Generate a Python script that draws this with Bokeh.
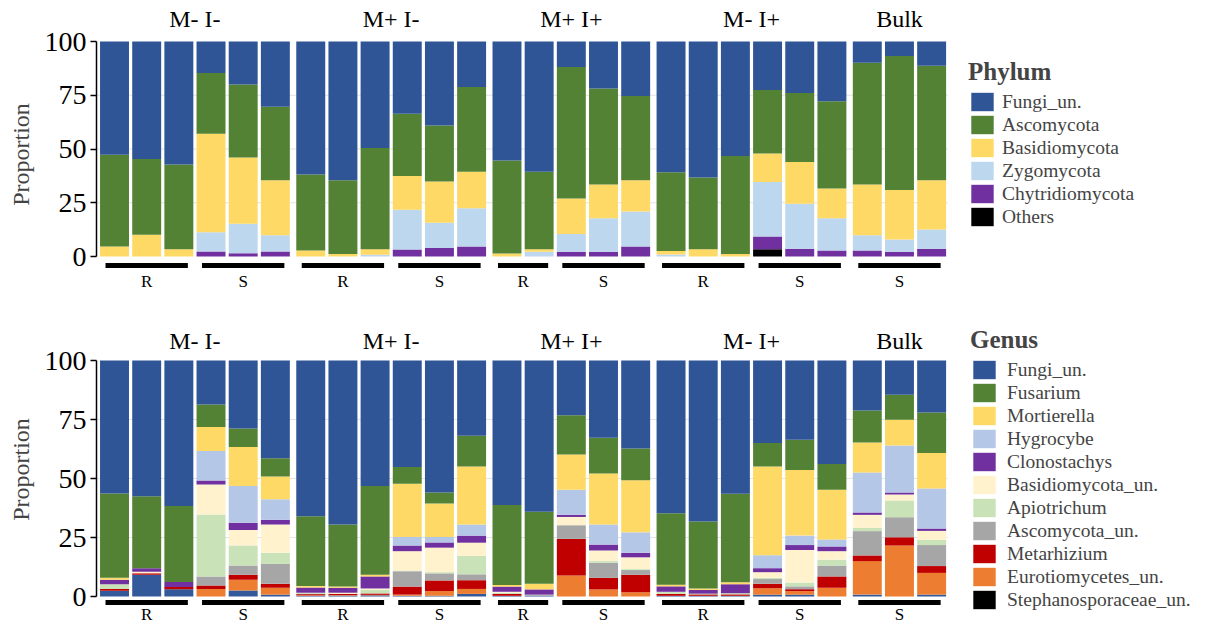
from bokeh.plotting import figure
from bokeh.models import Legend, LegendItem, ColumnDataSource, Range1d, FixedTicker
from bokeh.layouts import column
from bokeh.embed import file_html
from bokeh.resources import INLINE
from bokeh.core.properties import value

# ---------------- data ----------------
groups = ["M- I-", "M+ I-", "M+ I+", "M- I+", "Bulk"]
group_sites = [
    ["R", "R", "R", "S", "S", "S"],
    ["R", "R", "R", "S", "S", "S"],
    ["R", "R", "S", "S", "S"],
    ["R", "R", "R", "S", "S", "S"],
    ["S", "S", "S"],
]

phylum_names = ["Fungi_un.", "Ascomycota", "Basidiomycota", "Zygomycota", "Chytridiomycota", "Others"]
phylum_colors = ["#2F5597", "#548235", "#FFD966", "#BDD7EE", "#7030A0", "#000000"]

ph_fungi = [52.7, 54.6, 57.2, 14.6, 20.0, 30.4,
            61.9, 64.5, 49.5, 33.6, 39.1, 21.2,
            55.3, 60.6, 11.9, 21.9, 25.3,
            60.8, 63.3, 53.3, 22.6, 23.9, 27.8,
            9.9, 6.7, 11.3]
ph_asco = [42.7, 35.3, 39.4, 28.3, 34.0, 34.1,
           35.3, 34.3, 47.1, 28.9, 26.0, 39.4,
           43.3, 36.0, 61.1, 44.6, 39.2,
           36.6, 33.3, 45.5, 29.5, 32.1, 40.6,
           56.6, 62.4, 53.2]
ph_basidio = [4.6, 10.1, 3.4, 45.8, 30.8, 25.6,
              2.8, 1.2, 2.6, 15.8, 19.2, 16.9,
              1.4, 1.2, 16.5, 15.7, 14.6,
              1.7, 3.4, 1.2, 13.2, 19.5, 13.8,
              23.6, 23.0, 22.9]
ph_zygo = [0, 0, 0, 9.0, 13.7, 7.6,
           0, 0, 0.8, 18.4, 11.7, 17.8,
           0, 2.2, 8.3, 15.6, 16.2,
           0.9, 0, 0, 25.4, 20.9, 15.0,
           7.1, 5.7, 9.0]
ph_chytrid = [0, 0, 0, 2.3, 1.5, 2.3,
              0, 0, 0, 3.3, 4.0, 4.7,
              0, 0, 2.2, 2.2, 4.7,
              0, 0, 0, 5.9, 3.6, 2.8,
              2.8, 2.2, 3.6]
ph_others = [0, 0, 0, 0, 0, 0,
             0, 0, 0, 0, 0, 0,
             0, 0, 0, 0, 0,
             0, 0, 0, 3.4, 0, 0,
             0, 0, 0]

genus_names = ["Fungi_un.", "Fusarium", "Mortierella", "Hygrocybe", "Clonostachys",
               "Basidiomycota_un.", "Apiotrichum", "Ascomycota_un.", "Metarhizium",
               "Eurotiomycetes_un.", "Stephanosporaceae_un."]
genus_colors = ["#2F5597", "#548235", "#FFD966", "#B4C7E7", "#7030A0",
                "#FFF2CC", "#C9E2B8", "#A6A6A6", "#C00000", "#ED7D31", "#000000"]
rest_color = "#33599B"

g_fungi = [56.4, 57.5, 61.7, 18.6, 28.8, 41.4,
           66.0, 69.5, 53.2, 45.1, 55.9, 31.9,
           61.2, 64.1, 23.2, 32.7, 37.3,
           64.7, 68.2, 56.5, 35.0, 33.6, 43.9,
           21.2, 14.5, 22.0]
g_fusarium = [35.7, 30.5, 32.2, 9.6, 7.9, 7.8,
              29.6, 26.3, 37.6, 7.1, 4.7, 13.0,
              33.9, 30.5, 16.6, 15.2, 13.4,
              30.3, 28.4, 37.5, 9.9, 12.8, 10.9,
              13.5, 10.6, 17.2]
g_mortierella = [0.8, 0, 0, 10.2, 16.5, 9.6,
                 0.6, 0.5, 0.7, 22.6, 14.2, 24.6,
                 0.7, 2.4, 15.0, 21.6, 22.1,
                 0.7, 0.6, 0.8, 37.6, 27.8, 21.0,
                 12.8, 10.9, 15.0]
g_hygrocybe = [0, 0, 0, 12.4, 15.6, 8.7,
               0, 0, 0, 3.6, 2.3, 4.7,
               0, 0, 10.6, 8.5, 8.7,
               0, 0, 0, 5.5, 4.0, 3.0,
               16.9, 19.9, 17.0]
g_clonostachys = [1.9, 1.5, 2.1, 1.7, 3.0, 2.0,
                  2.2, 2.1, 5.1, 2.4, 2.2, 3.0,
                  2.2, 2.2, 0.9, 2.5, 1.9,
                  2.3, 1.6, 3.8, 1.7, 2.1, 2.0,
                  1.0, 0.9, 1.0]
g_basidio_un = [0, 0.7, 0, 12.8, 6.6, 12.0,
                0, 0.5, 0.6, 8.2, 10.4, 5.6,
                0.4, 0, 3.5, 4.5, 5.0,
                0, 0, 0, 2.4, 13.8, 3.6,
                5.5, 2.5, 3.8]
g_apiotrichum = [2.0, 0, 0, 26.2, 8.5, 4.7,
                 0.4, 0, 1.5, 0.3, 0.5, 7.8,
                 0.5, 0, 0, 0.7, 0.4,
                 0.9, 0.3, 0.5, 0.5, 1.6, 2.5,
                 1.4, 7.1, 2.2]
g_asco_un = [0, 0, 0, 3.8, 3.9, 8.4,
             0.2, 0, 0, 6.5, 3.0, 2.5,
             0, 0.5, 5.8, 6.4, 2.0,
             0, 0, 0, 2.0, 1.2, 4.6,
             10.3, 8.5, 8.9]
g_metarhizium = [0.8, 0.6, 0.9, 1.5, 2.1, 1.7,
                 0.5, 0.5, 0.6, 3.4, 4.5, 3.7,
                 0.8, 0, 15.5, 4.9, 7.4,
                 0.8, 0.6, 0.6, 1.9, 0.8, 4.8,
                 2.4, 3.5, 2.9]
g_eurotio = [0, 0, 0, 3.2, 4.6, 2.9,
             0.2, 0.2, 0.2, 0.5, 2.0, 2.1,
             0, 0, 8.9, 3.0, 1.8,
             0, 0, 0, 2.7, 1.5, 3.7,
             14.2, 21.6, 9.2]
g_stephano = [0] * 26
g_rest = [2.4, 9.2, 3.1, 0, 2.5, 0.8,
          0.3, 0.4, 0.5, 0.3, 0.3, 1.1,
          0.3, 0.3, 0, 0, 0,
          0.3, 0.3, 0.3, 0.8, 0.8, 0,
          0.8, 0, 0.8]

# ---------------- positions ----------------
xs, site_of, grp_of = [], [], []
i = 0
for g, sites in enumerate(group_sites):
    for s in sites:
        xs.append(i + 0.1 * g)
        site_of.append(s)
        grp_of.append(g)
        i += 1

group_x = [sum(x for x, gg in zip(xs, grp_of) if gg == g) / len(group_sites[g]) for g in range(len(groups))]
runs = []  # (x0, x1, site)
for g, sites in enumerate(group_sites):
    gx = [x for x, gg in zip(xs, grp_of) if gg == g]
    for s in ["R", "S"]:
        sx = [x for x, ss in zip(gx, sites) if ss == s]
        if sx:
            runs.append((min(sx) - 0.28, max(sx) + 0.28, s))

SERIF = "Liberation Serif"
PXU = 32.17
XSTART = -0.56
W = 1200
LEFT = 96
XEND = XSTART + (W - LEFT) / PXU


def make_panel(height, y_start, y_end, stack_names, stack_vals, colors, legend_names,
               title, label_y, line_y, site_y, legend_loc, standoff):
    p = figure(width=W, height=height, output_backend="svg", toolbar_location=None,
               x_range=Range1d(XSTART, XEND), y_range=Range1d(y_start, y_end),
               min_border_left=LEFT, min_border_right=0, min_border_top=0, min_border_bottom=0)
    p.outline_line_color = None
    p.xaxis.visible = False
    p.xgrid.visible = False
    p.ygrid.visible = False
    ticks = [0, 25, 50, 75, 100]
    p.segment(x0=[XSTART] * 3, x1=[xs[-1] + 0.5] * 3, y0=ticks[1:4], y1=ticks[1:4],
              line_color="#E3E3E3", line_width=1, level="underlay")

    data = dict(x=xs)
    keys = []
    for k, vals in enumerate(stack_vals):
        key = "s%d" % k
        data[key] = vals
        keys.append(key)
    src = ColumnDataSource(data)
    rs = p.vbar_stack(keys, x="x", width=0.9, color=colors, source=src, line_width=0)

    ax = p.yaxis[0]
    ax.ticker = FixedTicker(ticks=ticks)
    ax.bounds = (0, 100)
    ax.minor_tick_line_color = None
    ax.major_tick_in = 0
    ax.major_tick_out = 6
    ax.axis_line_width = 1.5
    ax.major_tick_line_width = 1.5
    ax.major_label_standoff = 4
    ax.major_label_text_font = SERIF
    ax.major_label_text_font_size = "28px"
    ax.major_label_text_color = "black"
    ax.axis_label = "Proportion"
    ax.axis_label_text_font = SERIF
    ax.axis_label_text_font_size = "24px"
    ax.axis_label_text_font_style = "normal"
    ax.axis_label_standoff = 8

    # group titles
    p.text(x=group_x, y=[label_y] * len(groups), text=groups, text_font=value(SERIF),
           text_font_size=value("24px"), text_align="center", text_baseline="middle",
           text_color="black")
    # R/S bars and labels
    p.segment(x0=[r[0] for r in runs], x1=[r[1] for r in runs],
              y0=[line_y] * len(runs), y1=[line_y] * len(runs),
              line_color="black", line_width=5, line_cap="butt")
    p.text(x=[(r[0] + r[1]) / 2 for r in runs], y=[site_y] * len(runs),
           text=[r[2] for r in runs], text_font=value(SERIF), text_font_size=value("17px"),
           text_align="center", text_baseline="middle", text_color="black")

    items = []
    for nm, r in zip(stack_names, rs):
        if nm in legend_names:
            items.append(LegendItem(label=nm, renderers=[r]))
    items = items[::-1]
    leg = Legend(items=items, location=legend_loc, title=title,
                 title_text_font=SERIF, title_text_font_size="25px",
                 title_text_font_style="bold", title_standoff=4,
                 label_text_font=SERIF, label_text_font_size="19.5px",
                 label_height=23, glyph_height=23, glyph_width=28,
                 label_standoff=standoff, spacing=0, padding=4, margin=0,
                 border_line_color=None, background_fill_alpha=0)
    p.add_layout(leg, "center")
    return p


# top panel: 100 at 41px from top, 2.15 px/unit, frame 308 px
TH = 308
top_end = 100 + 41 / 2.15
top = make_panel(
    TH, top_end - TH / 2.15, top_end,
    phylum_names[::-1],
    [ph_others, ph_chytrid, ph_zygo, ph_basidio, ph_asco, ph_fungi],
    phylum_colors[::-1], phylum_names, "Phylum",
    top_end - 18 / 2.15, top_end - 265 / 2.15, top_end - 281 / 2.15,
    (872, 80), 6)

# bottom panel: 100 at 52px from its top, 2.36 px/unit, frame 322 px
BH = 322
bot_end = 100 + 52 / 2.36
bottom = make_panel(
    BH, bot_end - BH / 2.36, bot_end,
    ["Rest"] + genus_names[::-1],
    [g_rest, g_stephano, g_eurotio, g_metarhizium, g_asco_un, g_apiotrichum,
     g_basidio_un, g_clonostachys, g_hygrocybe, g_mortierella, g_fusarium, g_fungi],
    [rest_color] + genus_colors[::-1], genus_names, "Genus",
    bot_end - 32 / 2.36, bot_end - 294 / 2.36, bot_end - 306 / 2.36,
    (874, 19), 9)

layout = column(top, bottom, spacing=0)
open("out.html", "w").write(file_html(layout, INLINE))
